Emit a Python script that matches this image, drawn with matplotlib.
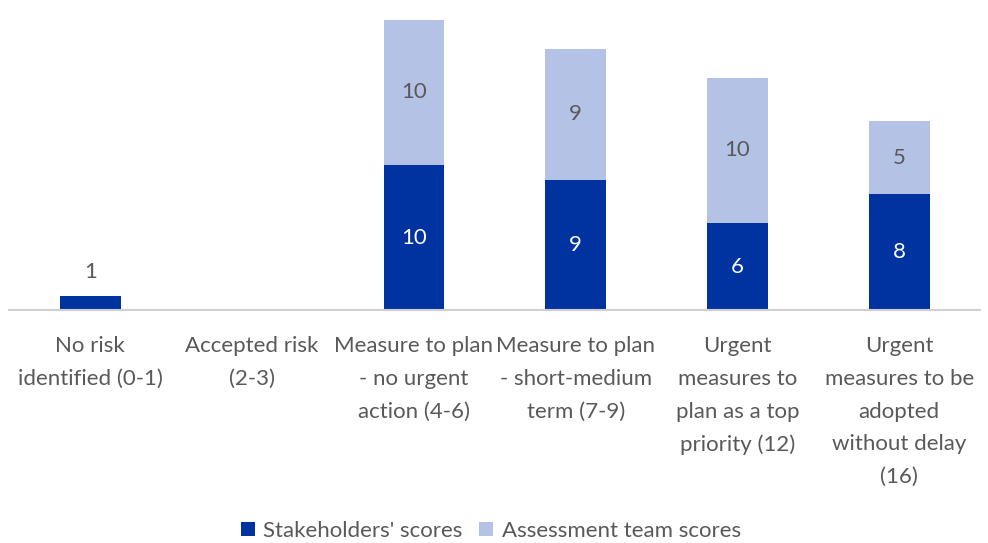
import matplotlib
matplotlib.use("Agg")
import matplotlib.pyplot as plt
import numpy as np

categories = ["No risk\nidentified (0-1)", "Accepted risk\n(2-3)",
              "Measure to plan\n- no urgent\naction (4-6)",
              "Measure to plan\n- short-medium\nterm (7-9)",
              "Urgent\nmeasures to\nplan as a top\npriority (12)",
              "Urgent\nmeasures to be\nadopted\nwithout delay\n(16)"]
stakeholders = [1, 0, 10, 9, 6, 8]
assessment = [0, 0, 10, 9, 10, 5]

dark = "#0033A0"
light = "#B4C3E5"
gray = "#595959"
plt.rcParams['font.family'] = ['Lato', 'DejaVu Sans']

fig = plt.figure(figsize=(9.88, 5.43), dpi=100)
ax = fig.add_axes([0.0095, 0.429, 0.9825, 0.561])
x = np.arange(len(categories))
w = 0.375
b1 = ax.bar(x, stakeholders, w, color=dark, label="Stakeholders' scores")
b2 = ax.bar(x, assessment, w, bottom=stakeholders, color=light, label="Assessment team scores")

for i, (s, a) in enumerate(zip(stakeholders, assessment)):
    if s > 0:
        if s < 3:
            ax.annotate(str(s), (x[i], s), xytext=(0, 17), textcoords="offset points",
                        ha="center", va="center", color=gray, fontsize=16)
        else:
            ax.text(x[i], s / 2, str(s), ha="center", va="center", color="white", fontsize=16)
    if a > 0:
        ax.text(x[i], s + a / 2, str(a), ha="center", va="center", color=gray, fontsize=16)

ax.set_xlim(-0.5, len(categories) - 0.5)
ax.set_ylim(0, 21)
ax.set_yticks([])
ax.set_xticks(x)
ax.set_xticklabels(categories, fontsize=16, color=gray, linespacing=1.79, va="top")
ax.tick_params(axis="x", length=0, pad=19)
for sp in ["top", "right", "left"]:
    ax.spines[sp].set_visible(False)
ax.spines["bottom"].set_color("#D0D0D0")
ax.spines["bottom"].set_linewidth(1.5)

fig.legend(handles=[b1, b2], loc="center", bbox_to_anchor=(0.497, 0.022), ncol=2,
           frameon=False, fontsize=16, labelcolor=gray, handlelength=0.6,
           handleheight=0.6, handletextpad=0.4, columnspacing=0.75)

fig.savefig("out.png", dpi=100, facecolor="white")
